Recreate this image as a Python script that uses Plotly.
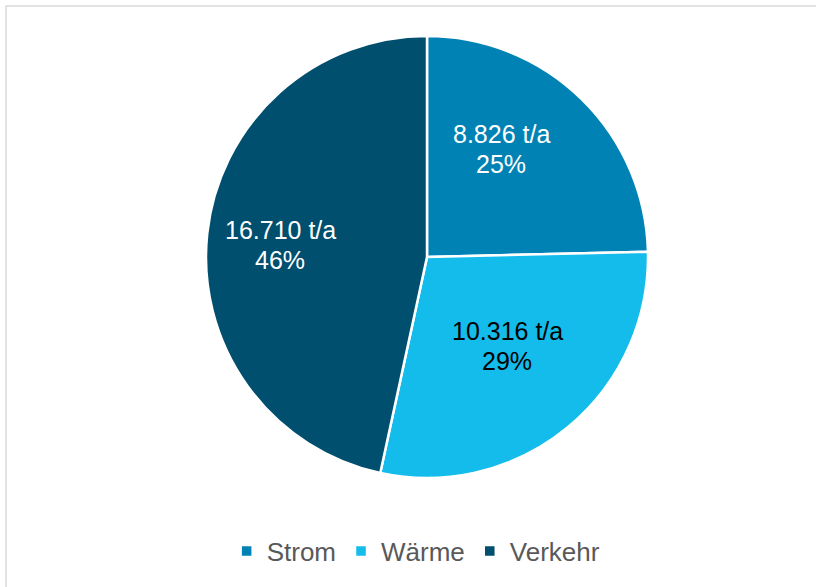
import math
import plotly.graph_objects as go

categories = ["Strom", "Wärme", "Verkehr"]
values = [8826, 10316, 16710]
value_labels = ["8.826 t/a", "10.316 t/a", "16.710 t/a"]
percent_labels = ["25%", "29%", "46%"]
colors = ["#0083B4", "#13BCEB", "#004F6E"]
text_colors = ["#FFFFFF", "#000000", "#FFFFFF"]

# label placement style (angle shift in degrees, radial fraction)
label_dtheta = [-9.9, -2.4, -1.4]
label_rfrac = [0.593, 0.542, 0.667]

W, H = 816, 587
cx, cy, r = 427, 257, 221
FONT = "Liberation Sans, Arial"

fig = go.Figure(go.Pie(
    labels=categories,
    values=values,
    textinfo="none",
    marker=dict(colors=colors, line=dict(color="#FFFFFF", width=2.5)),
    sort=False,
    direction="clockwise",
    rotation=0,
    hoverinfo="skip",
    domain=dict(x=[(cx - r) / W, (cx + r) / W], y=[1 - (cy + r) / H, 1 - (cy - r) / H]),
))

total = sum(values)
annotations = []
start = 0.0
for i, v in enumerate(values):
    span = v / total * 360
    mid = start + span / 2 + label_dtheta[i]
    start += span
    d = label_rfrac[i] * r
    px = cx + d * math.sin(math.radians(mid))
    py = cy - d * math.cos(math.radians(mid))
    for txt, dy in ((value_labels[i], -15), (percent_labels[i], 15)):
        annotations.append(dict(
            x=px / W, y=1 - (py + dy) / H, xref="paper", yref="paper",
            text=txt, showarrow=False, xanchor="center", yanchor="middle",
            font=dict(family=FONT, size=25, color=text_colors[i]),
        ))

fig.update_layout(
    width=W, height=H,
    margin=dict(l=0, r=0, t=0, b=0),
    paper_bgcolor="white",
    showlegend=True,
    legend=dict(orientation="h", x=0.51, xanchor="center", y=1 - 551 / H, yanchor="middle",
                font=dict(family=FONT, size=26, color="#595959"),
                itemwidth=30, tracegroupgap=0),
    annotations=annotations,
    shapes=[dict(type="rect", xref="paper", yref="paper",
                 x0=6 / W, x1=1.05, y0=-0.05, y1=1 - 6 / H,
                 line=dict(color="#D9D9D9", width=1.5))],
)

fig.write_html("out.html", config={"displayModeBar": False},
               post_script="document.body.style.margin='0';document.body.style.overflow='hidden';")
